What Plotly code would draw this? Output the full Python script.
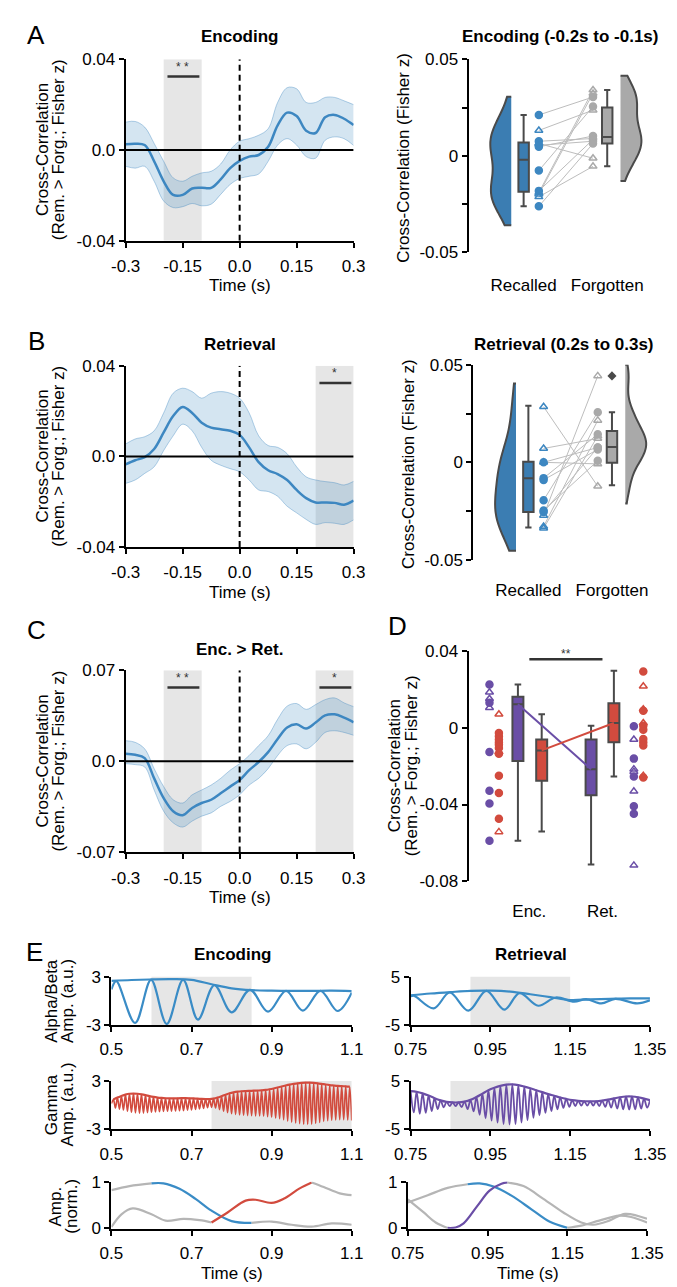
import plotly.graph_objects as go

W, H = 677, 1287
FONT = "Liberation Sans, Arial, sans-serif"
FS = 17
BLUE = "#3d87c1"
BLUE_BOX = "#3b7db2"
BAND = "rgba(61,135,193,0.22)"
BAND_EDGE = "rgba(61,135,193,0.38)"
GRAY = "#a9a9a9"
PAIR_GRAY = "#bdbdbd"
DARK = "#4a4a4a"
RED = "#d24b3e"
PURPLE = "#6a4ea6"
SHADE = "#e6e6e6"
E_BLUE = "#3a8cc6"
E_GRAY = "#b5b5b5"

# ---------------- data: panels A-C (cross-correlation time courses) ----------------
lags = [-0.3, -0.275, -0.25, -0.225, -0.2, -0.175, -0.15, -0.125, -0.1, -0.075, -0.05, -0.025,
        0.0, 0.025, 0.05, 0.075, 0.1, 0.125, 0.15, 0.175, 0.2, 0.225, 0.25, 0.275, 0.3]

enc_mean = [0.0025, 0.0028, 0.0022, -0.005, -0.0138, -0.0198, -0.0198, -0.017, -0.0167, -0.0167,
            -0.013, -0.008, -0.0048, -0.0029, -0.0022, 0.0014, 0.0109, 0.0165, 0.015, 0.0085,
            0.0075, 0.0145, 0.0155, 0.0138, 0.011]
enc_upper = [0.0123, 0.0126, 0.0101, 0.0029, -0.005, -0.0123, -0.0138, -0.0116, -0.0101, -0.0094,
             -0.0062, 0.0, 0.0039, 0.005, 0.0065, 0.0094, 0.021, 0.0275, 0.027, 0.021,
             0.021, 0.0232, 0.0232, 0.0217, 0.02]
enc_lower = [-0.0072, -0.008, -0.0072, -0.0138, -0.0225, -0.0254, -0.025, -0.0236, -0.0246, -0.0239,
             -0.0196, -0.0152, -0.0126, -0.0116, -0.0106, -0.005, 0.0022, 0.005, 0.0022, -0.0029,
             -0.0036, 0.0043, 0.0058, 0.005, 0.002]

ret_mean = [-0.0035, -0.0017, -0.0003, 0.0033, 0.0106, 0.0178, 0.0218, 0.0192, 0.0149, 0.0127,
            0.012, 0.0113, 0.0095, 0.004, -0.0025, -0.0061, -0.0078, -0.0104, -0.0148, -0.0184,
            -0.0203, -0.0203, -0.0205, -0.0213, -0.0195]
ret_upper = [0.0055, 0.0077, 0.0087, 0.0113, 0.0192, 0.0279, 0.0301, 0.0286, 0.0257, 0.0279,
             0.0286, 0.0279, 0.0257, 0.0192, 0.0091, 0.0048, 0.004, 0.0012, -0.0046, -0.009,
             -0.0104, -0.0111, -0.0116, -0.0126, -0.011]
ret_lower = [-0.0119, -0.0104, -0.0075, -0.0046, 0.0026, 0.0091, 0.0142, 0.0113, 0.004, -0.0017,
             -0.0039, -0.0054, -0.0068, -0.0104, -0.0148, -0.0155, -0.0176, -0.022, -0.0249, -0.0278,
             -0.03, -0.0292, -0.0295, -0.03, -0.028]

diff_mean = [0.0058, 0.005, 0.0025, -0.0131, -0.0283, -0.0383, -0.0414, -0.0358, -0.032, -0.0295,
             -0.0245, -0.0194, -0.0144, -0.0068, -0.0005, 0.0071, 0.0172, 0.026, 0.0285, 0.0252,
             0.0298, 0.0353, 0.0361, 0.0336, 0.03]
diff_upper = [0.0159, 0.0146, 0.0096, -0.0056, -0.0194, -0.0295, -0.032, -0.0257, -0.022, -0.0182,
              -0.0131, -0.0068, -0.0018, 0.0045, 0.0121, 0.0197, 0.0323, 0.0424, 0.0444, 0.0399,
              0.0436, 0.0474, 0.0487, 0.0449, 0.042]
diff_lower = [-0.0018, -0.0025, -0.0043, -0.022, -0.0383, -0.0472, -0.0505, -0.0459, -0.0421, -0.0396,
              -0.0346, -0.0308, -0.0257, -0.0182, -0.0131, -0.0056, 0.0045, 0.0121, 0.0134, 0.0096,
              0.0146, 0.0222, 0.0235, 0.0222, 0.02]

# ---------------- data: raincloud panels (A right, B right) ----------------
enc_rec = [0.0212, 0.0132, 0.0076, 0.0064, 0.0047, 0.0055, -0.0076, -0.0181, -0.019, -0.0198, -0.0212, -0.0261]
enc_forg = [0.0305, 0.0237, 0.009, -0.0012, 0.0103, 0.0076, 0.0256, 0.0085, 0.0341, 0.0324, -0.0054, 0.0064]
enc_sym = ["c", "t", "c", "t", "c", "c", "c", "c", "t", "t", "t", "c"]
enc_rec_box = dict(lowerfence=-0.0261, q1=-0.0186, median=-0.002, q3=0.0069, upperfence=0.0212)
enc_forg_box = dict(lowerfence=-0.0054, q1=0.0064, median=0.0098, q3=0.0251, upperfence=0.0341)
enc_rec_span = [-0.0359, 0.0307]
enc_forg_span = [-0.013, 0.0415]

ret_rec = [0.0285, 0.0071, 0.0, 0.0, -0.0081, -0.009, -0.0194, -0.0247, -0.0255, -0.0272, -0.0329, -0.0338]
ret_forg = [-0.0123, 0.0122, -0.0008, 0.0076, 0.0144, 0.0066, 0.0257, 0.0008, 0.0076, 0.0443, 0.0215, 0.0135]
ret_sym = ["t", "t", "t", "c", "c", "c", "c", "c", "c", "t", "t", "t"]
ret_rec_box = dict(lowerfence=-0.0334, q1=-0.0255, median=-0.0081, q3=0.0003, upperfence=0.029)
ret_forg_box = dict(lowerfence=-0.0118, q1=-0.0002, median=0.0079, q3=0.016, upperfence=0.0257)
ret_forg_outlier = [0.0443]
ret_rec_span = [-0.0453, 0.0404]
ret_forg_span = [-0.0211, 0.05]

# ---------------- data: panel D ----------------
d_enc_purple = [0.0227, 0.0187, 0.0153, 0.0132, 0.0106, -0.0125, -0.0328, -0.0395, -0.0589]
d_enc_purple_sym = ["c", "t", "t", "c", "t", "c", "c", "c", "c"]
d_enc_red = [0.0072, -0.0026, -0.0043, -0.006, -0.0074, -0.0088, -0.0105, -0.0125, -0.0134,
             -0.0249, -0.034, -0.0474, -0.0543]
d_enc_red_sym = ["t", "c", "c", "c", "c", "c", "c", "t", "c", "c", "c", "c", "t"]
d_ret_purple = [0.0009, -0.006, -0.016, -0.0215, -0.0228, -0.0254, -0.0331, -0.0409, -0.0448, -0.0718]
d_ret_purple_sym = ["c", "t", "c", "t", "t", "c", "t", "c", "c", "t"]
d_ret_red = [0.0295, 0.0218, 0.0098, 0.009, 0.0026, 0.0012, -0.0009, -0.0057, -0.0074, -0.0091,
             -0.0249, -0.0259]
d_ret_red_sym = ["c", "t", "t", "c", "t", "c", "c", "c", "c", "c", "t", "c"]
d_box_enc_purple = dict(lowerfence=-0.0589, q1=-0.0173, median=0.0124, q3=0.0163, upperfence=0.0227)
d_box_enc_red = dict(lowerfence=-0.0541, q1=-0.0276, median=-0.0117, q3=-0.006, upperfence=0.0072)
d_box_ret_purple = dict(lowerfence=-0.0714, q1=-0.0352, median=-0.0215, q3=-0.006, upperfence=0.0012)
d_box_ret_red = dict(lowerfence=-0.0254, q1=-0.0074, median=0.0026, q3=0.0129, upperfence=0.0299)

# ---------------- data: panel E (example traces) ----------------
alpha_enc_t = [0.5, 0.512, 0.559, 0.599, 0.638, 0.679, 0.716, 0.757, 0.8, 0.846, 0.891, 0.936,
               0.978, 1.022, 1.065, 1.1]
alpha_enc_v = [1.4, 2.45, -2.75, 2.59, -2.88, 2.59, -2.34, 1.93, -1.44, 1.36, -1.36, 1.23,
               -1.23, 1.23, -1.27, 1.0]
alpha_enc_env_t = [0.5, 0.55, 0.6, 0.65, 0.7, 0.75, 0.8, 0.85, 0.9, 0.95, 1.0, 1.05, 1.1]
alpha_enc_env_v = [2.47, 2.58, 2.65, 2.68, 2.6, 2.05, 1.55, 1.32, 1.25, 1.22, 1.23, 1.25, 1.2]

alpha_ret_t = [0.75, 0.758, 0.808, 0.848, 0.895, 0.94, 0.985, 1.023, 1.07, 1.114, 1.16, 1.19,
               1.228, 1.263, 1.318, 1.35]
alpha_ret_v = [0.9, 1.05, -1.58, 1.71, -2.05, 2.05, -1.85, 1.58, -1.03, 0.68, -0.2, 0.35,
               -0.55, 0.4, -0.55, 0.1]
alpha_ret_env_t = [0.75, 0.8, 0.85, 0.9, 0.95, 1.0, 1.05, 1.1, 1.15, 1.2, 1.25, 1.3, 1.35]
alpha_ret_env_v = [1.1, 1.5, 1.8, 2.05, 2.1, 1.9, 1.35, 0.75, 0.15, 0.3, 0.4, 0.5, 0.5]

gamma_enc_peak_t = [0.505, 0.515, 0.525, 0.535, 0.545, 0.555, 0.565, 0.575, 0.585, 0.595,
                    0.605, 0.615, 0.625, 0.635, 0.645, 0.655, 0.665, 0.675, 0.685, 0.695,
                    0.705, 0.715, 0.725, 0.735, 0.745, 0.755, 0.765, 0.775, 0.785, 0.795,
                    0.805, 0.815, 0.825, 0.835, 0.845, 0.855, 0.865, 0.875, 0.885, 0.895,
                    0.905, 0.915, 0.925, 0.935, 0.945, 0.955, 0.965, 0.975, 0.985, 0.995,
                    1.005, 1.015, 1.025, 1.035, 1.045, 1.055, 1.065, 1.075, 1.085, 1.095]
gamma_enc_peak_v = [0.70, 0.95, 1.15, 1.32, 1.42, 1.45, 1.42, 1.35, 1.25, 1.13,
                    1.03, 0.95, 0.90, 0.86, 0.84, 0.84, 0.86, 0.87, 0.87, 0.86,
                    0.84, 0.81, 0.78, 0.76, 0.76, 0.82, 0.95, 1.12, 1.30, 1.48,
                    1.60, 1.68, 1.73, 1.76, 1.78, 1.80, 1.82, 1.85, 1.90, 1.98,
                    2.08, 2.20, 2.33, 2.45, 2.56, 2.65, 2.72, 2.77, 2.80, 2.80,
                    2.77, 2.72, 2.65, 2.57, 2.50, 2.45, 2.40, 2.37, 2.34, 2.30]
gamma_enc_trough_t = [0.50, 0.51, 0.52, 0.53, 0.54, 0.55, 0.56, 0.57, 0.58, 0.59,
                      0.60, 0.61, 0.62, 0.63, 0.64, 0.65, 0.66, 0.67, 0.68, 0.69,
                      0.70, 0.71, 0.72, 0.73, 0.74, 0.75, 0.76, 0.77, 0.78, 0.79,
                      0.80, 0.81, 0.82, 0.83, 0.84, 0.85, 0.86, 0.87, 0.88, 0.89,
                      0.90, 0.91, 0.92, 0.93, 0.94, 0.95, 0.96, 0.97, 0.98, 0.99,
                      1.00, 1.01, 1.02, 1.03, 1.04, 1.05, 1.06, 1.07, 1.08, 1.09,
                      1.10]
gamma_enc_trough_v = [0.20, -0.35, -0.50, -0.60, -0.75, -0.88, -0.95, -1.00, -0.98, -0.93,
                      -0.88, -0.84, -0.80, -0.78, -0.76, -0.74, -0.72, -0.70, -0.67, -0.63,
                      -0.58, -0.53, -0.47, -0.40, -0.32, -0.27, -0.35, -0.55, -0.75, -0.92,
                      -1.05, -1.15, -1.22, -1.26, -1.29, -1.31, -1.33, -1.35, -1.37, -1.42,
                      -1.50, -1.60, -1.69, -1.82, -1.97, -2.10, -2.22, -2.30, -2.37, -2.39,
                      -2.35, -2.25, -2.15, -2.02, -1.92, -1.86, -1.82, -1.80, -1.80, -1.84,
                      -1.90]

gamma_ret_peak_t = [0.750, 0.765, 0.780, 0.795, 0.810, 0.825, 0.840, 0.855, 0.870, 0.885,
                    0.900, 0.915, 0.930, 0.945, 0.960, 0.975, 0.990, 1.005, 1.020, 1.035,
                    1.050, 1.065, 1.080, 1.095, 1.110, 1.125, 1.140, 1.155, 1.170, 1.185,
                    1.200, 1.215, 1.230, 1.245, 1.260, 1.275, 1.290, 1.305, 1.320, 1.335,
                    1.350]
gamma_ret_peak_v = [2.90, 2.75, 2.45, 2.00, 1.45, 1.00, 0.70, 0.58, 0.58, 0.75,
                    1.10, 1.70, 2.40, 3.10, 3.60, 4.00, 4.25, 4.30, 4.15, 3.85,
                    3.50, 3.10, 2.70, 2.30, 1.95, 1.60, 1.30, 1.05, 0.90, 0.82,
                    0.80, 0.82, 0.95, 1.15, 1.40, 1.65, 1.80, 1.80, 1.65, 1.35,
                    1.05]
gamma_ret_trough_t = [0.758, 0.773, 0.788, 0.803, 0.818, 0.833, 0.848, 0.863, 0.878, 0.893,
                      0.908, 0.923, 0.938, 0.953, 0.968, 0.983, 0.998, 1.013, 1.028, 1.043,
                      1.058, 1.073, 1.088, 1.103, 1.118, 1.133, 1.148, 1.163, 1.178, 1.193,
                      1.208, 1.223, 1.238, 1.253, 1.268, 1.283, 1.298, 1.313, 1.328, 1.343]
gamma_ret_trough_v = [-1.5, -1.8, -1.6, -1.2, -0.8, -0.45, -0.2, -0.2, -0.4, -0.8,
                      -1.3, -2.0, -2.7, -3.2, -3.6, -3.9, -4.0, -3.9, -3.6, -3.1,
                      -2.6, -2.1, -1.6, -1.2, -0.85, -0.55, -0.35, -0.2, -0.1, -0.1,
                      -0.1, -0.2, -0.35, -0.5, -0.7, -0.85, -0.9, -0.85, -0.7, -0.5]

norm_alpha_enc_t = [0.5, 0.545, 0.6, 0.63, 0.67, 0.71, 0.75, 0.8, 0.85, 0.9, 0.95, 1.0, 1.05, 1.1]
norm_alpha_enc_v = [0.83, 0.92, 0.98, 0.98, 0.86, 0.64, 0.38, 0.15, 0.11, 0.14, 0.07, 0.03, 0.1, 0.07]
norm_gamma_enc_t = [0.5, 0.525, 0.553, 0.6, 0.635, 0.68, 0.72, 0.75, 0.79, 0.835, 0.86, 0.9,
                    0.93, 0.97, 1.0, 1.03, 1.07, 1.1]
norm_gamma_enc_v = [0.02, 0.3, 0.43, 0.3, 0.16, 0.2, 0.17, 0.12, 0.34, 0.6, 0.62, 0.55,
                    0.64, 0.87, 1.0, 0.9, 0.76, 0.72]
norm_alpha_ret_t = [0.75, 0.8, 0.85, 0.9, 0.93, 0.965, 1.01, 1.06, 1.105, 1.15, 1.185, 1.23,
                    1.28, 1.31, 1.35]
norm_alpha_ret_v = [0.56, 0.72, 0.88, 0.96, 0.98, 0.91, 0.71, 0.41, 0.14, 0.0, 0.05, 0.16,
                    0.27, 0.24, 0.12]
norm_gamma_ret_t = [0.75, 0.79, 0.82, 0.85, 0.87, 0.89, 0.925, 0.955, 0.985, 1.0, 1.04, 1.09,
                    1.14, 1.185, 1.215, 1.255, 1.295, 1.35]
norm_gamma_ret_v = [0.63, 0.34, 0.12, 0.0, 0.01, 0.1, 0.49, 0.82, 0.97, 1.0, 0.92, 0.64,
                    0.34, 0.12, 0.07, 0.16, 0.31, 0.2]

# ---------------- layout helpers ----------------


def xdom(a, b):
    return [a / W, b / W]


def ydom(top, bottom):
    return [1 - bottom / H, 1 - top / H]


def names(n):
    return ("x" if n == 1 else f"x{n}"), ("y" if n == 1 else f"y{n}")


def axis(dom, rng, tickvals, ticktext, anchor, **kw):
    d = dict(domain=dom, range=rng, tickvals=tickvals, ticktext=ticktext, anchor=anchor,
             showline=True, linewidth=2, linecolor="black", ticks="outside", ticklen=5,
             tickwidth=2, tickcolor="black", showgrid=False, zeroline=False,
             tickfont=dict(size=FS, family=FONT, color="black"))
    d.update(kw)
    return d


def text(t, x, y, size=FS, angle=0, bold=False):
    return dict(text=f"<b>{t}</b>" if bold else t, x=x / W, y=1 - y / H, xref="paper",
                yref="paper", showarrow=False, textangle=angle, xanchor="center",
                yanchor="middle", font=dict(size=size, family=FONT, color="black"))


fig = go.Figure()
layout = {}
shapes = []
annotations = []

# ---------------- panels A, B, C left ----------------
series = [(1, 43, 227, enc_mean, enc_upper, enc_lower, 0.04, [[-0.2, -0.1, "* *"]]),
          (3, 354, 538, ret_mean, ret_upper, ret_lower, 0.04, [[0.2, 0.3, "*"]]),
          (5, 663, 848, diff_mean, diff_upper, diff_lower, 0.07, [[-0.2, -0.1, "* *"], [0.2, 0.3, "*"]])]

for n, top, bottom, mean, upper, lower, lim, windows in series:
    xa, ya = names(n)
    lim_txt = f"{lim:.2f}"
    layout["xaxis" if n == 1 else f"xaxis{n}"] = axis(
        xdom(106, 346), [-0.3, 0.3], [-0.3, -0.15, 0, 0.15, 0.3],
        ["-0.3", "-0.15", "0.0", "0.15", "0.3"], ya, ticklabelstandoff=4)
    layout["yaxis" if n == 1 else f"yaxis{n}"] = axis(
        ydom(top, bottom), [-lim, lim], [-lim, 0, lim], ["-" + lim_txt, "0.0", lim_txt], xa)
    for w0, w1, stars in windows:
        shapes.append(dict(type="rect", xref=xa, yref=ya, x0=w0, x1=w1, y0=-lim, y1=lim,
                           fillcolor=SHADE, line_width=0, layer="below"))
        ybar = lim * 0.81
        shapes.append(dict(type="line", xref=xa, yref=ya, x0=w0 + 0.01, x1=w1 - 0.006,
                           y0=ybar, y1=ybar, line=dict(color="#333333", width=2.5)))
        annotations.append(dict(text=stars, x=(w0 + w1) / 2, y=lim * 0.915, xref=xa, yref=ya,
                                showarrow=False, font=dict(size=12, family=FONT, color="#333333")))
    fig.add_trace(go.Scatter(x=lags, y=lower, mode="lines", xaxis=xa, yaxis=ya,
                             line=dict(color=BAND_EDGE, width=1, shape="spline")))
    fig.add_trace(go.Scatter(x=lags, y=upper, mode="lines", xaxis=xa, yaxis=ya, fill="tonexty",
                             fillcolor=BAND, line=dict(color=BAND_EDGE, width=1, shape="spline")))
    fig.add_trace(go.Scatter(x=lags, y=mean, mode="lines", xaxis=xa, yaxis=ya,
                             line=dict(color=BLUE, width=2.5, shape="spline")))
    shapes.append(dict(type="line", xref=xa, yref=ya, x0=-0.3, x1=0.3, y0=0, y1=0,
                       line=dict(color="black", width=2)))
    shapes.append(dict(type="line", xref=xa, yref=ya, x0=0, x1=0, y0=-lim, y1=lim,
                       line=dict(color="black", width=2, dash="6px,4px")))
    mid = (top + bottom) / 2
    annotations.append(text("Cross-Correlation", 18, mid, angle=-90))
    annotations.append(text("(Rem. &gt; Forg.; Fisher z)", 35, mid, angle=-90))
    annotations.append(text("Time (s)", 226, bottom + 46))

# ---------------- raincloud panels ----------------


def symbols(codes):
    return ["circle" if c == "c" else "triangle-up-open" for c in codes]


rain = [(2, 467, 43, 239, enc_rec, enc_forg, enc_sym, enc_rec_box, enc_forg_box,
         enc_rec_span, enc_forg_span, [], 17),
        (4, 472, 353, 551, ret_rec, ret_forg, ret_sym, ret_rec_box, ret_forg_box,
         ret_rec_span, ret_forg_span, ret_forg_outlier, 15)]

for n, left, top, bottom, rec, forg, sym, rbox, fbox, rspan, fspan, outl, tl in rain:
    xa, ya = names(n)
    layout[f"xaxis{n}"] = axis(xdom(left, left + 193), [-0.659, 1.534], [0, 1],
                               ["Recalled", "Forgotten"], ya, showline=False, ticklen=tl,
                               tickcolor="rgba(0,0,0,0)")
    layout[f"yaxis{n}"] = axis(ydom(top, bottom), [-0.05, 0.05],
                               [-0.05, -0.025, 0, 0.025, 0.05], ["-0.05", "", "0", "", "0.05"], xa)
    # paired lines
    lx, ly = [], []
    for r, f in zip(rec, forg):
        lx += [0.182, 0.83, None]
        ly += [r, f, None]
    fig.add_trace(go.Scatter(x=lx, y=ly, mode="lines", xaxis=xa, yaxis=ya,
                             line=dict(color=PAIR_GRAY, width=1)))
    fig.add_trace(go.Violin(y=rec, x0=-0.148, side="negative", width=0.5, points=False,
                            spanmode="manual", span=rspan, fillcolor=BLUE_BOX,
                            line=dict(color=DARK, width=2), opacity=1, xaxis=xa, yaxis=ya))
    fig.add_trace(go.Violin(y=forg, x0=1.159, side="positive", width=0.5, points=False,
                            spanmode="manual", span=fspan, fillcolor=GRAY,
                            line=dict(color=DARK, width=2), opacity=1, xaxis=xa, yaxis=ya))
    for pos, stats, col in [(0, rbox, BLUE_BOX), (1, fbox, GRAY)]:
        fig.add_trace(go.Box(x=[pos], q1=[stats["q1"]], median=[stats["median"]], q3=[stats["q3"]],
                             lowerfence=[stats["lowerfence"]], upperfence=[stats["upperfence"]],
                             width=0.125, whiskerwidth=0.6, fillcolor=col, boxpoints=False,
                             line=dict(color=DARK, width=2), xaxis=xa, yaxis=ya))
    if outl:
        fig.add_trace(go.Scatter(x=[1] * len(outl), y=outl, mode="markers", xaxis=xa, yaxis=ya,
                                 marker=dict(symbol="diamond", size=7, color=DARK)))
    for pos, vals, col in [(0.182, rec, BLUE), (0.83, forg, GRAY)]:
        fig.add_trace(go.Scatter(x=[pos] * len(vals), y=vals, mode="markers", xaxis=xa, yaxis=ya,
                                 marker=dict(symbol=symbols(sym), size=7, color=col,
                                             line=dict(color=col, width=1.5))))
    annotations.append(text("Cross-Correlation (Fisher z)", left - 68, (top + bottom) / 2 + 2,
                            angle=-90))

annotations.append(text("Encoding (-0.2s to -0.1s)", 563, 20, bold=True))
annotations.append(text("Retrieval (0.2s to 0.3s)", 567, 332, bold=True))
annotations.append(text("Encoding", 226, 20, bold=True))
annotations.append(text("Retrieval", 226, 332, bold=True))
annotations.append(text("Enc. &gt; Ret.", 226, 642, bold=True))

# ---------------- panel D ----------------
xa, ya = names(6)
layout["xaxis6"] = axis(xdom(467, 660), [-0.831, 1.675], [0, 1], ["Enc.", "Ret."], ya,
                        showline=False, ticklen=15, tickcolor="rgba(0,0,0,0)")
layout["yaxis6"] = axis(ydom(644, 877), [-0.08, 0.04], [-0.08, -0.04, 0, 0.04],
                        ["-0.08", "-0.04", "0", "0.04"], xa)
d_boxes = [(-0.156, d_box_enc_purple, PURPLE), (0.169, d_box_enc_red, RED),
           (0.844, d_box_ret_purple, PURPLE), (1.156, d_box_ret_red, RED)]
fig.add_trace(go.Scatter(x=[-0.156, 0.844], y=[d_box_enc_purple["median"], d_box_ret_purple["median"]],
                         mode="lines", line=dict(color=PURPLE, width=2), xaxis=xa, yaxis=ya))
fig.add_trace(go.Scatter(x=[0.169, 1.156], y=[d_box_enc_red["median"], d_box_ret_red["median"]],
                         mode="lines", line=dict(color=RED, width=2), xaxis=xa, yaxis=ya))
for pos, stats, col in d_boxes:
    fig.add_trace(go.Box(x=[pos], q1=[stats["q1"]], median=[stats["median"]], q3=[stats["q3"]],
                         lowerfence=[stats["lowerfence"]], upperfence=[stats["upperfence"]],
                         width=0.15, whiskerwidth=0.6, fillcolor=col, boxpoints=False,
                         line=dict(color=DARK, width=2), xaxis=xa, yaxis=ya))
for pos, vals, sym, col in [(-0.545, d_enc_purple, d_enc_purple_sym, PURPLE),
                            (-0.416, d_enc_red, d_enc_red_sym, RED),
                            (1.429, d_ret_purple, d_ret_purple_sym, PURPLE),
                            (1.558, d_ret_red, d_ret_red_sym, RED)]:
    fig.add_trace(go.Scatter(x=[pos] * len(vals), y=vals, mode="markers", xaxis=xa, yaxis=ya,
                             marker=dict(symbol=symbols(sym), size=7, color=col,
                                         line=dict(color=col, width=1.5))))
shapes.append(dict(type="line", xref=xa, yref=ya, x0=0, x1=1, y0=0.036, y1=0.036,
                   line=dict(color="#333333", width=2.5)))
annotations.append(dict(text="**", x=0.5, y=0.0385, xref=xa, yref=ya, showarrow=False,
                        font=dict(size=12, family=FONT, color="#333333")))
annotations.append(text("Cross-Correlation", 389, 760, angle=-90))
annotations.append(text("(Rem. &gt; Forg.; Fisher z)", 407, 760, angle=-90))

# ---------------- panel E ----------------


def merged(t1, v1, t2, v2):
    pairs = sorted(zip(t1 + t2, v1 + v2))
    return [p[0] for p in pairs], [p[1] for p in pairs]


g_enc_t, g_enc_v = merged(gamma_enc_peak_t, gamma_enc_peak_v, gamma_enc_trough_t, gamma_enc_trough_v)
g_ret_t, g_ret_v = merged(gamma_ret_peak_t, gamma_ret_peak_v, gamma_ret_trough_t, gamma_ret_trough_v)

left_ticks = ([0.5, 0.7, 0.9, 1.1], ["0.5", "0.7", "0.9", "1.1"])
right_ticks = ([0.75, 0.95, 1.15, 1.35], ["0.75", "0.95", "1.15", "1.35"])

e_rows = [
    (7, (91, 344), (974, 1023), [0.5, 1.1], left_ticks, 3, [0.6, 0.85],
     [(alpha_enc_t, alpha_enc_v, E_BLUE, 2.2), (alpha_enc_env_t, alpha_enc_env_v, E_BLUE, 2.2)]),
    (8, (406, 658), (974, 1023), [0.75, 1.35], right_ticks, 5, [0.9, 1.15],
     [(alpha_ret_t, alpha_ret_v, E_BLUE, 2.2), (alpha_ret_env_t, alpha_ret_env_v, E_BLUE, 2.2)]),
    (9, (91, 344), (1080, 1129), [0.5, 1.1], left_ticks, 3, [0.75, 1.1],
     [(g_enc_t, g_enc_v, RED, 1.6), (gamma_enc_peak_t, gamma_enc_peak_v, RED, 2.2)]),
    (10, (406, 658), (1080, 1129), [0.75, 1.35], right_ticks, 5, [0.85, 1.0],
     [(g_ret_t, g_ret_v, PURPLE, 1.8), (gamma_ret_peak_t, gamma_ret_peak_v, PURPLE, 2.2)]),
]

for n, (xl, xr), (top, bottom), rng, (tv, tt), lim, win, lines in e_rows:
    xa, ya = names(n)
    layout[f"xaxis{n}"] = axis(xdom(xl, xr), rng, tv, tt, ya, ticklabelstandoff=3)
    layout[f"yaxis{n}"] = axis(ydom(top, bottom), [-lim, lim], [-lim, lim],
                               [f"-{lim}", f"{lim}"], xa)
    shapes.append(dict(type="rect", xref=xa, yref=ya, x0=win[0], x1=win[1], y0=-lim, y1=lim,
                       fillcolor=SHADE, line_width=0, layer="below"))
    for t, v, col, lw in lines:
        fig.add_trace(go.Scatter(x=t, y=v, mode="lines", xaxis=xa, yaxis=ya,
                                 line=dict(color=col, width=lw, shape="spline")))

norm_rows = [
    (11, (91, 344), [0.5, 1.1], left_ticks,
     [(norm_alpha_enc_t, norm_alpha_enc_v, [0.6, 0.85], E_BLUE),
      (norm_gamma_enc_t, norm_gamma_enc_v, [0.75, 1.0], RED)]),
    (12, (403, 655), [0.75, 1.35], right_ticks,
     [(norm_alpha_ret_t, norm_alpha_ret_v, [0.9, 1.15], E_BLUE),
      (norm_gamma_ret_t, norm_gamma_ret_v, [0.85, 1.0], PURPLE)]),
]
for n, (xl, xr), rng, (tv, tt), curves in norm_rows:
    xa, ya = names(n)
    layout[f"xaxis{n}"] = axis(xdom(xl, xr), rng, tv, tt, ya, ticklabelstandoff=3)
    layout[f"yaxis{n}"] = axis(ydom(1182, 1230), [-0.02, 1.02], [0, 1], ["0", "1"], xa)
    for t, v, win, col in curves:
        segs = [([p for p in zip(t, v) if p[0] <= win[0]], E_GRAY),
                ([p for p in zip(t, v) if win[0] <= p[0] <= win[1]], col),
                ([p for p in zip(t, v) if p[0] >= win[1]], E_GRAY)]
        for pts, c in segs:
            if len(pts) > 1:
                fig.add_trace(go.Scatter(x=[p[0] for p in pts], y=[p[1] for p in pts], mode="lines",
                                         xaxis=xa, yaxis=ya,
                                         line=dict(color=c, width=2.2, shape="spline")))

annotations += [
    text("Encoding", 218, 952, bold=True), text("Retrieval", 533, 952, bold=True),
    text("Alpha/Beta", 28, 999, angle=-90), text("Amp. (a.u.)", 45, 999, angle=-90),
    text("Gamma", 28, 1104, angle=-90), text("Amp. (a.u.)", 45, 1104, angle=-90),
    text("Amp.", 32, 1207, angle=-90), text("(norm.)", 49, 1207, angle=-90),
    text("Time (s)", 218, 1275), text("Time (s)", 530, 1275),
]

# panel letters
for letter, x, y in [("A", 12, 18), ("B", 12, 329), ("C", 12, 622), ("D", 392, 618), ("E", 10, 949)]:
    annotations.append(text(letter, x, y, size=26))

fig.update_layout(width=W, height=H, margin=dict(l=0, r=0, t=0, b=0), showlegend=False,
                  paper_bgcolor="white", plot_bgcolor="white", shapes=shapes,
                  annotations=annotations, font=dict(family=FONT, size=FS, color="black"),
                  **layout)
fig.update_traces(hoverinfo="skip", selector=dict(type="scatter"))

fig.write_html("out.html")
